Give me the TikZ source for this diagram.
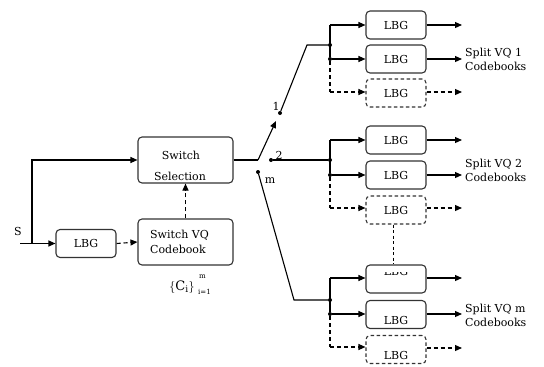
\documentclass[tikz,border=0pt]{standalone}
\usepackage{fontspec}
\setmainfont{DejaVu Serif}
\usetikzlibrary{arrows.meta}
\begin{document}
\begin{tikzpicture}[x=1pt,y=-1pt,
  lbl/.style={font=\fontsize{11}{14.5}\selectfont, inner sep=0pt},
  box/.style={draw=black!80, rounded corners=4pt, line width=1.1pt, minimum width=60pt, minimum height=28pt, inner sep=0pt, lbl},
  dbox/.style={box, dash pattern=on 3.5pt off 2.5pt},
  arr/.style={-{Triangle[length=7pt,width=6pt]}, line width=1.1pt},
  darr/.style={arr, dash pattern=on 4pt off 3pt},
  ln/.style={line width=1.1pt},
  dln/.style={line width=1.1pt, dash pattern=on 4pt off 3pt},
  dot/.style={circle, fill, inner sep=0pt, minimum size=4pt}]
\useasboundingbox (0,0) rectangle (544,367);

% left part
\node[box, minimum width=95pt, minimum height=46pt] (ss) at (185.5,160) {};
\node[lbl] (sst1) at (181,155) {Switch};
\node[lbl] (sst2) at (180,176) {Selection};
\node[box, minimum width=95pt, minimum height=46pt] (vq) at (185.5,242) {};
\node[lbl, align=left, anchor=west] (vqt) at (150,242) {Switch VQ\\Codebook};
\node[box] (lbg0) at (86,243.5) {LBG};
\node[lbl] (s) at (18,231) {S};
\coordinate (in) at (20,243.5);
\coordinate (br) at (32,243.5);
\node[lbl, font=\fontsize{13}{14}\selectfont] (ci) at (182,287) {$\{\mathrm{C}_{\mathrm{i}}\}$};
\node[lbl, font=\fontsize{7}{8}\selectfont, anchor=west] (cisub) at (198,292) {i=1};
\node[lbl, font=\fontsize{7}{8}\selectfont, anchor=west] (cisup) at (199,277) {m};

\draw[arr] (in) -- (lbg0.west);
\draw[arr] (br) |- (ss.west);
\draw[darr] (lbg0.east) -- (vq.west);
\draw[darr] (vq.north) -- (ss.south);

% switch
\coordinate (sw) at (258,160);
\coordinate (swtip) at (276,121);
\node[dot] (d1) at (280,113) {};
\node[dot] (d2) at (271,160) {};
\node[dot] (dm) at (258,172) {};
\node[lbl] (l1) at (276,106) {1};
\node[lbl] (l2) at (279,155) {2};
\node[lbl] (lm) at (270,181) {m};
\draw[ln] (ss.east |- sw) -- (sw);
\draw[arr] (sw) -- (swtip);

% group 1
\node[box] (a1) at (396,25) {LBG};
\node[box] (a2) at (396,59) {LBG};
\node[dbox] (a3) at (396,93) {LBG};
\node[dot] (j1) at (330,45) {};
\node[dot] (k1) at (330,59) {};
\coordinate (t1) at (330,25);
\coordinate (b1) at (330,92);
\coordinate (bend1) at (307,45);
\draw[ln] (d1) -- (bend1) -- (j1);
\draw[ln] (k1) -- (t1);
\draw[arr] (t1) -- (a1.west);
\draw[arr] (k1) -- (a2.west);
\draw[dln] (k1) -- (b1);
\draw[darr] (b1) -- (a3.west |- b1);
\coordinate (o11) at (462,25);
\coordinate (o12) at (462,59);
\coordinate (o13) at (462,92);
\draw[arr] (a1.east) -- (o11);
\draw[arr] (a2.east) -- (o12);
\draw[darr] (a3.east |- o13) -- (o13);
\node[lbl, align=left, anchor=west] (c1) at (465,59.5) {Split VQ 1\\Codebooks};

% group 2
\node[box] (b21) at (396,140) {LBG};
\node[box] (b22) at (396,175) {LBG};
\node[dbox] (b23) at (396,210) {LBG};
\node[dot] (j2) at (330,160) {};
\node[dot] (k2) at (330,175) {};
\coordinate (t2) at (330,140);
\coordinate (b2) at (330,208);
\draw[ln] (d2) -- (j2);
\draw[ln] (k2) -- (t2);
\draw[arr] (t2) -- (b21.west);
\draw[arr] (k2) -- (b22.west);
\draw[dln] (k2) -- (b2);
\draw[darr] (b2) -- (b23.west |- b2);
\coordinate (o21) at (462,140);
\coordinate (o22) at (462,175);
\coordinate (o23) at (462,208);
\draw[arr] (b21.east) -- (o21);
\draw[arr] (b22.east) -- (o22);
\draw[darr] (b23.east |- o23) -- (o23);
\node[lbl, align=left, anchor=west] (c2) at (465,170.5) {Split VQ 2\\Codebooks};

% group m
\node[box] (m1) at (396,279) {};
\begin{scope}
  \clip (366,272.5) rectangle (426,293);
  \node[lbl, anchor=base] (m1t) at (396,275.5) {LBG};
\end{scope}
\node[box] (m2) at (396,314.5) {};
\node[lbl] (m2t) at (396,320) {LBG};
\node[dbox] (m3) at (396,349.5) {};
\node[lbl] (m3t) at (396,355) {LBG};
\node[dot] (jm) at (330,300) {};
\node[dot] (km) at (330,314) {};
\coordinate (tm) at (330,278);
\coordinate (bm) at (330,347);
\coordinate (bendm) at (294,300);
\draw[ln] (dm) -- (bendm) -- (jm);
\draw[ln] (km) -- (tm);
\draw[arr] (tm) -- (m1.west |- tm);
\draw[arr] (km) -- (m2.west |- km);
\draw[dln] (km) -- (bm);
\draw[darr] (bm) -- (m3.west |- bm);
\coordinate (om1) at (462,278);
\coordinate (om2) at (462,314);
\coordinate (om3) at (462,348);
\draw[arr] (m1.east |- om1) -- (om1);
\draw[arr] (m2.east |- om2) -- (om2);
\draw[darr] (m3.east |- om3) -- (om3);
\node[lbl, align=left, anchor=west] (cm) at (465,315.5) {Split VQ m\\Codebooks};

% dashed link between groups
\draw[line width=0.9pt, dash pattern=on 3pt off 2.5pt] ([xshift=-3pt]b23.south) -- ([xshift=-3pt]m1.north);
\end{tikzpicture}
\end{document}
